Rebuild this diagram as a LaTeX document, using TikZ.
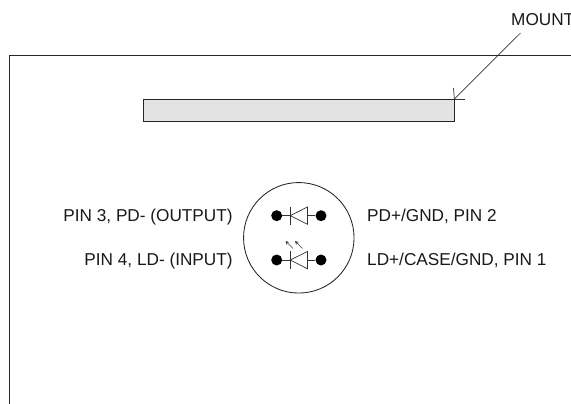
\documentclass[tikz,border=0pt]{standalone}
\usepackage{fontspec}
\setmainfont{Liberation Sans}
\usetikzlibrary{arrows.meta}
\tikzset{
  x=1pt,y=-1pt,
  line/.style={draw=black!85,line width=0.85pt},
  thin line/.style={draw=black!80,line width=0.7pt},
  pin dot/.style={circle,fill=black,minimum size=11pt,inner sep=0pt},
  lbl/.style={font=\fontsize{17.2pt}{20pt}\selectfont,text=black!90,inner sep=0pt},
  emit/.style={draw=black!75,line width=0.7pt,-{Stealth[length=3.5pt,width=3.5pt]}},
}
\begin{document}
\begin{tikzpicture}
\useasboundingbox (0,0) rectangle (571,404);
\fill[white] (0,0) rectangle (571,404);
% housing outline
\coordinate (fa) at (9.7,404);
\coordinate (fb) at (9.7,55.3);
\coordinate (fc) at (571,55.3);
\draw[line] (fa) -- (fb) -- (fc);
% mount bar
\node[line,fill=black!11,inner sep=0pt,anchor=north west,minimum width=310.5pt,minimum height=22.5pt] (bar) at (143,99) {};
\coordinate (mc) at (bar.north east);
\coordinate (mu) at (453.5,88);
\coordinate (mr) at (465,99);
\draw[thin line] (mc) -- (mu);
\draw[thin line] (mc) -- (mr);
\node[lbl,anchor=base west] (mount) at (511,26) {MOUNT};
\coordinate (me) at (520.5,33);
\draw[thin line] (mc) -- (me);
% package
\node[circle,line,minimum size=110.5pt,inner sep=0pt] (can) at (298.8,237.8) {};
% top diode
\node[pin dot] (p3) at (276.7,215.7) {};
\node[pin dot] (p2) at (321,215.7) {};
\coordinate (tk) at (290.2,215.7);
\coordinate (ta) at (307.4,215.7);
\draw[thin line] (p3) -- (tk);
\draw[thin line] (ta) -- (p2);
\draw[thin line] (290.2,206.5) -- (290.2,224.5);
\draw[thin line,line join=miter] (tk) -- (307.4,207) -- (307.4,224.3) -- cycle;
% bottom diode
\node[pin dot] (p4) at (276.7,260) {};
\node[pin dot] (p1) at (321,260) {};
\coordinate (bk) at (290.2,260);
\coordinate (ba) at (307.4,260);
\draw[thin line] (p4) -- (bk);
\draw[thin line] (ba) -- (p1);
\draw[thin line] (290.2,251) -- (290.2,269);
\draw[thin line,line join=miter] (bk) -- (307.4,251.5) -- (307.4,268.7) -- cycle;
% light arrows
\coordinate (l1s) at (293,248.5);
\coordinate (l1e) at (285.5,241);
\coordinate (l2s) at (302.5,248.5);
\coordinate (l2e) at (295,241);
\draw[emit] (l1s) -- (l1e);
\draw[emit] (l2s) -- (l2e);
% labels
\node[lbl,anchor=base east] (l3) at (232.8,221) {PIN 3, PD- (OUTPUT)};
\node[lbl,anchor=base east] (l4) at (232.8,265) {PIN 4, LD- (INPUT)};
\node[lbl,anchor=base west] (r2) at (367,221) {PD+/GND, PIN 2};
\node[lbl,anchor=base west] (r1) at (367,265) {LD+/CASE/GND, PIN 1};
\end{tikzpicture}
\end{document}
